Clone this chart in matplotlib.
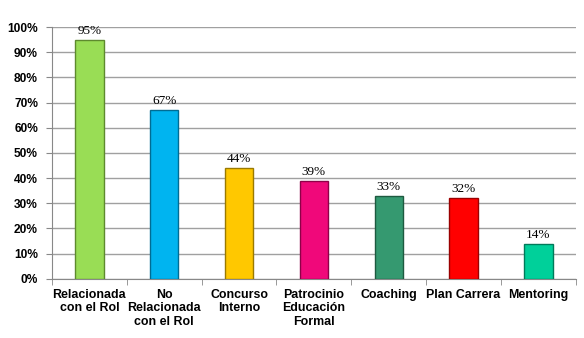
import matplotlib.pyplot as plt
import numpy as np
from matplotlib.ticker import PercentFormatter

# Data
categories = ['Relacionada\ncon el Rol', 'No\nRelacionada\ncon el Rol', 'Concurso\nInterno',
              'Patrocinio\nEducación\nFormal', 'Coaching', 'Plan Carrera', 'Mentoring']
values = [95, 67, 44, 39, 33, 32, 14]
colors = ['#99DD55', '#00B4F0', '#FFC800', '#F0087A', '#359970', '#FF0000', '#00D09A']
edges = ['#5E8A2E', '#006C94', '#9A7A00', '#8E0048', '#1E5A40', '#990000', '#007A5A']

fig = plt.figure(figsize=(5.84, 3.38), dpi=100)
ax = fig.add_axes([0.089, 0.175, 0.897, 0.745])

x = np.arange(len(categories))
ax.bar(x, values, width=0.38, color=colors, edgecolor=edges, linewidth=1.0, zorder=3)

for xi, v in zip(x, values):
    ax.text(xi, v + 1.2, f'{v}%', ha='center', va='bottom', fontsize=9.5,
            family='Liberation Serif', zorder=4)

ax.set_xlim(-0.5, len(categories) - 0.5)
ax.set_ylim(0, 100)
ax.set_yticks(np.arange(0, 101, 10))
ax.yaxis.set_major_formatter(PercentFormatter(decimals=0))
ax.grid(axis='y', color='#A0A0A0', linewidth=1.0, zorder=0)

ax.set_xticks(x)
ax.set_xticklabels(categories, fontsize=8.9, fontweight='bold', family='Liberation Sans',
                   linespacing=1.2)
ax.set_xticks(np.arange(-0.5, len(categories)), minor=True)
ax.tick_params(axis='x', which='major', length=0, pad=7)
ax.tick_params(axis='x', which='minor', length=4, color='#888888')
ax.tick_params(axis='y', length=4, color='#888888', pad=6)
for lbl in ax.get_yticklabels():
    lbl.set_fontweight('bold')
    lbl.set_family('Liberation Sans')
    lbl.set_fontsize(8.6)

for side in ['top', 'right']:
    ax.spines[side].set_visible(False)
for side in ['left', 'bottom']:
    ax.spines[side].set_color('#888888')

fig.savefig('out.png', dpi=100)
